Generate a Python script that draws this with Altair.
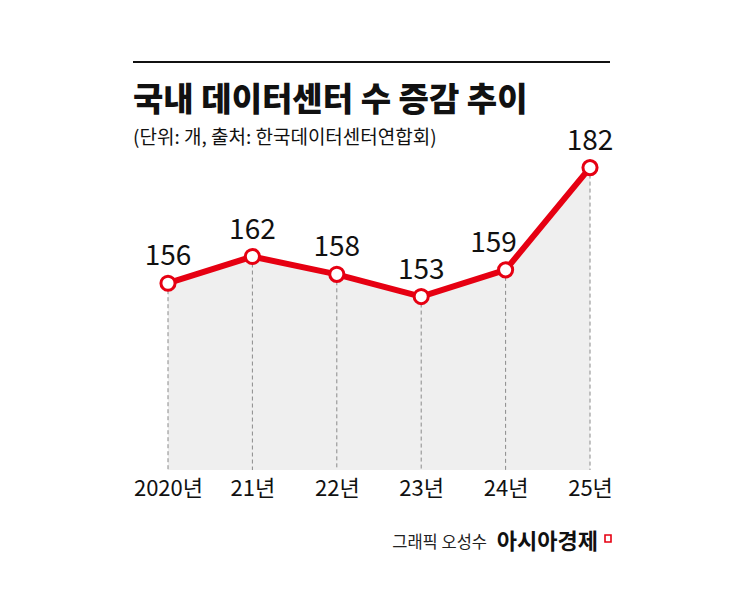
import altair as alt
import pandas as pd

# 국내 데이터센터 수 (단위: 개)
years = ["2020년", "21년", "22년", "23년", "24년", "25년"]
counts = [156, 162, 158, 153, 159, 182]

title_text = "국내 데이터센터 수 증감 추이"
subtitle_text = "(단위: 개, 출처: 한국데이터센터연합회)"
credit_text = "그래픽 오성수"
brand_text = "아시아경제"

FONT = "Noto Sans CJK KR"
RED = "#e60012"
Y_MIN, Y_MAX = 114, 190

df = pd.DataFrame({"year": years, "count": counts})

x_enc = alt.X(
    "year:O",
    sort=years,
    scale=alt.Scale(type="point", padding=0),
    axis=alt.Axis(
        title=None, labelAngle=0, domain=False, ticks=False,
        labelFontSize=22, labelFont=FONT, labelColor="#111", labelPadding=8,
    ),
)
y_enc = alt.Y("count:Q", scale=alt.Scale(domain=[Y_MIN, Y_MAX], zero=False), axis=None)

base = alt.Chart(df).encode(x=x_enc, y=y_enc)

area = base.mark_area(color="#efefef").encode(y2=alt.datum(Y_MIN))
drops = base.mark_rule(color="#8a8a8a", strokeDash=[4, 3], strokeWidth=1).encode(
    y2=alt.datum(Y_MIN)
)
line = base.mark_line(color=RED, strokeWidth=6)
points = base.mark_point(
    filled=True, fill="white", stroke=RED, strokeWidth=3, size=200, opacity=1
)

labels = base.mark_text(font=FONT, fontSize=28, color="#111", dy=-18, baseline="alphabetic").encode(
    text="count:Q"
).transform_filter(alt.datum.year != "24년")
label_24 = base.mark_text(font=FONT, fontSize=28, color="#111", dy=-18, dx=-12, baseline="alphabetic").encode(
    text="count:Q"
).transform_filter(alt.datum.year == "24년")

# 상단 구분선, 제목, 출처
one = pd.DataFrame({"t": [title_text], "s": [subtitle_text], "c": [credit_text], "b": [brand_text]})
top_rule = alt.Chart(one).mark_rule(color="#111", strokeWidth=2).encode(
    x=alt.value(-35), x2=alt.value(442), y=alt.value(-70)
)
title = alt.Chart(one).mark_text(
    font=FONT, fontSize=33, fontWeight=900, color="#111", align="left", baseline="alphabetic"
).encode(text="t:N", x=alt.value(-35), y=alt.value(-21))
subtitle = alt.Chart(one).mark_text(
    font=FONT, fontSize=19, color="#111", align="left", baseline="alphabetic"
).encode(text="s:N", x=alt.value(-35), y=alt.value(12))
credit = alt.Chart(one).mark_text(
    font=FONT, fontSize=16.5, color="#222", align="right", baseline="alphabetic"
).encode(text="c:N", x=alt.value(319), y=alt.value(416))
brand = alt.Chart(one).mark_text(
    font=FONT, fontSize=22, fontWeight="bold", color="#111", align="right", baseline="alphabetic"
).encode(text="b:N", x=alt.value(430), y=alt.value(417))
logo = alt.Chart(one).mark_rect(fill="white", stroke=RED, strokeWidth=1.6).encode(
    x=alt.value(437), x2=alt.value(443), y=alt.value(403), y2=alt.value(410)
)

chart = alt.layer(
    area, drops, line, points, labels, label_24,
    top_rule, title, subtitle, credit, brand, logo,
).properties(
    width=422,
    height=338,
    autosize=alt.AutoSizeParams(type="none"),
    padding={"left": 160, "top": 124, "right": 140, "bottom": 100},
    background="white",
).configure_view(stroke=None)

chart.save("out.html", embed_options={"renderer": "svg", "actions": False})
